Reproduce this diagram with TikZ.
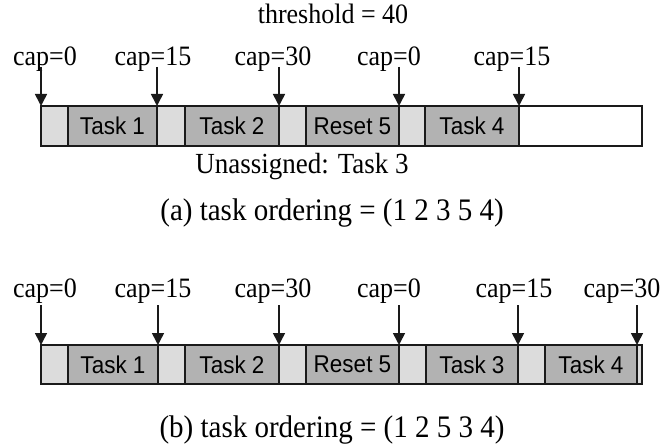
\documentclass[tikz,border=0pt]{standalone}
\usepackage{fontspec}
\usepackage{graphicx}
\setmainfont{Liberation Serif}
\newfontfamily\boxfont{Liberation Sans}
\usetikzlibrary{arrows.meta}

\definecolor{slotgray}{HTML}{DCDCDC}
\definecolor{taskgray}{HTML}{B2B2B2}
\definecolor{inkline}{HTML}{1A1A1A}

% text is set slightly taller than wide
\newcommand{\tallset}[1]{\scalebox{1}[1.08]{#1}}

\tikzset{
  seg/.style={draw=inkline, line width=1.6bp, rectangle, inner sep=0pt, outer sep=0pt,
              anchor=west, font=\boxfont\fontsize{22.5bp}{24bp}\selectfont},
  slot/.style={seg, fill=slotgray},
  tasknode/.style={seg, fill=taskgray},
  freebox/.style={seg, fill=white},
  toprow/.style={minimum height=40bp},
  botrow/.style={minimum height=39bp},
  caplabel/.style={anchor=base, inner sep=0pt, font=\fontsize{26bp}{28bp}\selectfont},
  note/.style={anchor=base, inner sep=0pt, font=\fontsize{27bp}{29bp}\selectfont},
  caption/.style={anchor=base, inner sep=0pt, font=\fontsize{29bp}{31bp}\selectfont},
  capptr/.style={draw=inkline, line width=1.6bp, -{Triangle[width=12bp,length=12bp]}}
}

\begin{document}
\begin{tikzpicture}[x=1bp, y=-1bp]
\useasboundingbox (0,0) rectangle (662,447);

% ---------- (a) ----------
\node[caplabel] (thr) at (333,24) {\tallset{threshold = 40}};

\node[slot, toprow, minimum width=27bp] (A0) at (41,126) {};
\node[tasknode, toprow, minimum width=89bp] (A1) at (68,126) {\tallset{Task 1}};
\node[slot, toprow, minimum width=28bp] (A2) at (157,126) {};
\node[tasknode, toprow, minimum width=94bp] (A3) at (185,126) {\tallset{Task 2}};
\node[slot, toprow, minimum width=27bp] (A4) at (279,126) {};
\node[tasknode, toprow, minimum width=93bp] (A5) at (306,126) {\tallset{Reset 5}};
\node[slot, toprow, minimum width=26bp] (A6) at (399,126) {};
\node[tasknode, toprow, minimum width=94bp] (A7) at (425,126) {\tallset{Task 4}};
\node[freebox, toprow, minimum width=123bp] (A8) at (519,126) {};

\node[caplabel] (la0) at (45,66) {\tallset{cap=0}};
\node[caplabel] (la1) at (153,66) {\tallset{cap=15}};
\node[caplabel] (la2) at (273,66) {\tallset{cap=30}};
\node[caplabel] (la3) at (389,66) {\tallset{cap=0}};
\node[caplabel] (la4) at (512,66) {\tallset{cap=15}};

\coordinate (pa0) at (41,67);
\coordinate (pa1) at (157,67);
\coordinate (pa2) at (279,67);
\coordinate (pa3) at (399,67);
\coordinate (pa4) at (519,67);

\draw[capptr] (pa0) -- (A0.north west);
\draw[capptr] (pa1) -- (A2.north west);
\draw[capptr] (pa2) -- (A4.north west);
\draw[capptr] (pa3) -- (A6.north west);
\draw[capptr] (pa4) -- (A8.north west);

\node[note] (unas) at (302,174) {\tallset{Unassigned: Task 3}};
\node[caption] (capa) at (332,221) {\tallset{(a) task ordering = (1 2 3 5 4)}};

% ---------- (b) ----------
\node[slot, botrow, minimum width=27bp] (B0) at (41,364.5) {};
\node[tasknode, botrow, minimum width=90bp] (B1) at (68,364.5) {\tallset{Task 1}};
\node[slot, botrow, minimum width=27bp] (B2) at (158,364.5) {};
\node[tasknode, botrow, minimum width=94bp] (B3) at (185,364.5) {\tallset{Task 2}};
\node[slot, botrow, minimum width=27bp] (B4) at (279,364.5) {};
\node[tasknode, botrow, minimum width=93bp] (B5) at (306,364.5) {\tallset{Reset 5}};
\node[slot, botrow, minimum width=27bp] (B6) at (399,364.5) {};
\node[tasknode, botrow, minimum width=92bp] (B7) at (426,364.5) {\tallset{Task 3}};
\node[slot, botrow, minimum width=27bp] (B8) at (518,364.5) {};
\node[tasknode, botrow, minimum width=92bp] (B9) at (545,364.5) {\tallset{Task 4}};
\node[slot, botrow, minimum width=5bp] (B10) at (637,364.5) {};

\node[caplabel] (lb0) at (45,298) {\tallset{cap=0}};
\node[caplabel] (lb1) at (153,298) {\tallset{cap=15}};
\node[caplabel] (lb2) at (273,298) {\tallset{cap=30}};
\node[caplabel] (lb3) at (389,298) {\tallset{cap=0}};
\node[caplabel] (lb4) at (514,298) {\tallset{cap=15}};
\node[caplabel] (lb5) at (622,298) {\tallset{cap=30}};

\coordinate (pb0) at (41,305);
\coordinate (pb1) at (158,305);
\coordinate (pb2) at (279,305);
\coordinate (pb3) at (399,305);
\coordinate (pb4) at (518,305);
\coordinate (pb5) at (637,305);

\draw[capptr] (pb0) -- (B0.north west);
\draw[capptr] (pb1) -- (B2.north west);
\draw[capptr] (pb2) -- (B4.north west);
\draw[capptr] (pb3) -- (B6.north west);
\draw[capptr] (pb4) -- (B8.north west);
\draw[capptr] (pb5) -- (B10.north west);

\node[caption] (capb) at (332,437) {\tallset{(b) task ordering = (1 2 5 3 4)}};
\end{tikzpicture}
\end{document}
